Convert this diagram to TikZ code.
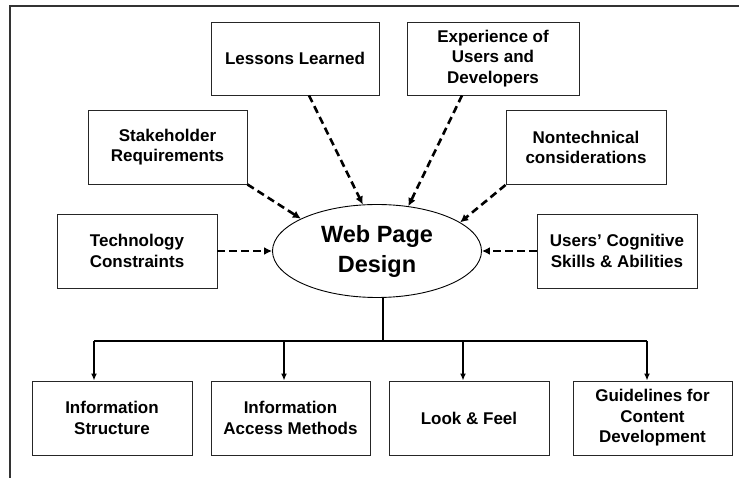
\documentclass[tikz,border=0pt]{standalone}
\usepackage{fontspec}
\setmainfont{Liberation Sans}
\usetikzlibrary{arrows.meta,shapes.geometric}
\tikzset{
  box/.style={draw=black!85, line width=0.9pt, minimum width=160pt, minimum height=74pt,
    align=center, inner sep=0pt, font=\bfseries\fontsize{17}{20.5}\selectfont},
  dasharrow/.style={line width=2.6pt, dash pattern=on 7.5pt off 4.5pt,
    -{Latex[length=8pt,width=8pt]}},
  solidarrow/.style={line width=1.6pt, -{Latex[length=7pt,width=6pt]}},
  frameline/.style={draw=black!80, line width=2pt}
}
\begin{document}
\begin{tikzpicture}[x=1pt,y=-1pt]
\useasboundingbox (0,0) rectangle (739,478);
% frame
\draw[frameline] (10,478) -- (10,6) -- (739,6);

% central ellipse
\node[ellipse, draw=black, line width=0.9pt, minimum width=209pt, minimum height=93pt,
  inner sep=0pt, align=center, font=\bfseries\fontsize{23.5}{30}\selectfont] (web) at (377,251) {Web Page\\Design};

% input boxes
\node[box, minimum width=168pt, minimum height=73pt] (ll) at (295,58.5) {Lessons Learned};
\node[box, minimum width=172pt, minimum height=73pt] (exp) at (493,58.5) {Experience of\\Users and\\Developers};
\node[box, minimum width=159pt] (stk) at (167.5,147) {Stakeholder\\Requirements};
\node[box] (non) at (586,147.5) {Nontechnical\\considerations};
\node[box] (tech) at (137,251) {Technology\\Constraints};
\node[box] (usr) at (617,251) {Users’ Cognitive\\Skills \& Abilities};

% output boxes
\node[box] (is) at (112,418) {Information\\Structure};
\node[box, minimum width=159pt] (iam) at (290.5,418) {Information\\Access Methods};
\node[box] (lf) at (469,418) {Look \& Feel};
\node[box, minimum width=159pt] (gl) at (652.5,418) {Guidelines for\\Content\\Development};

% dashed inputs
\draw[dasharrow] ([xshift=14pt]ll.south) -- (web.107);
\draw[dasharrow] ([xshift=-31pt]exp.south) -- (web.55);
\draw[dasharrow] (stk.south east) -- (web.157);
\draw[dasharrow] (non.south west) -- (web.19);
\draw[dasharrow] (tech.east) -- (web.west);
\draw[dasharrow] (usr.west) -- (web.east);

% output tree
\coordinate (jn) at (383,341);
\coordinate (barl) at (94,341);
\coordinate (barr) at (647,341);
\draw[line width=1.6pt] (web.south -| jn) -- (jn);
\draw[line width=1.6pt] (barl) -- (barr);
\draw[solidarrow] (barl) -- (barl |- is.north);
\draw[solidarrow] (284,341) -- (284,0 |- iam.north);
\draw[solidarrow] (463,341) -- (463,0 |- lf.north);
\draw[solidarrow] (barr) -- (barr |- gl.north);
\end{tikzpicture}
\end{document}
